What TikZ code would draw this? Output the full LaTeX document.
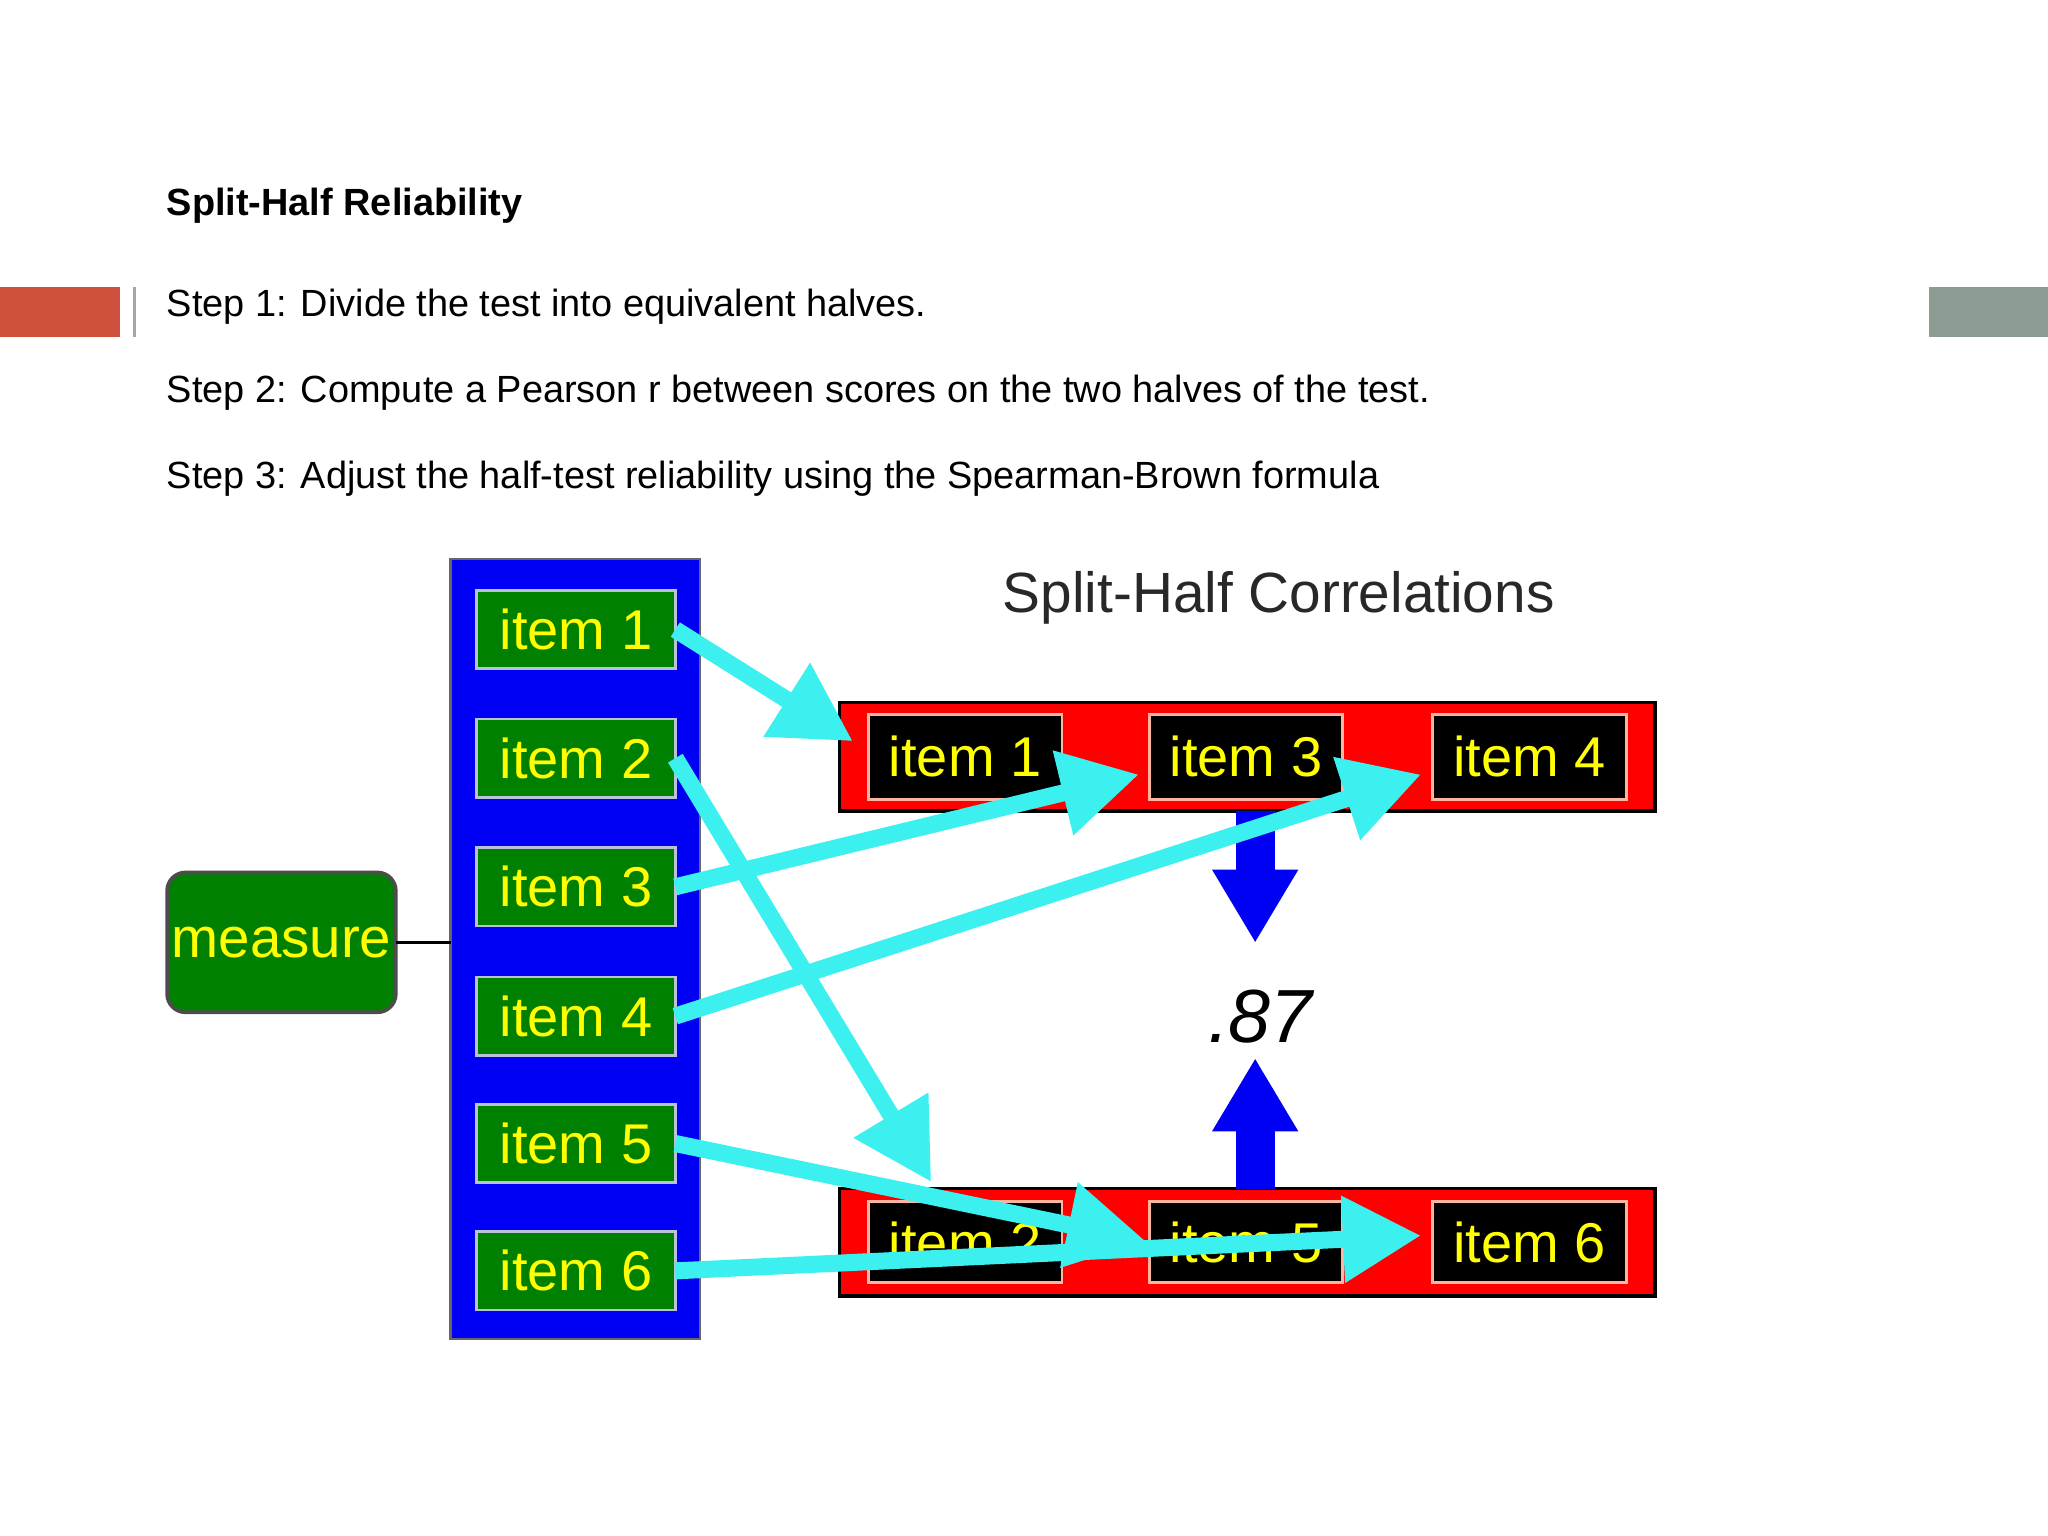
\documentclass[tikz,border=0pt]{standalone}
\usepackage{fontspec}
\setmainfont{Liberation Sans}
\usetikzlibrary{arrows.meta}
\definecolor{barred}{RGB}{208,80,62}
\definecolor{bargray}{RGB}{140,156,146}
\definecolor{boxgreen}{RGB}{0,128,0}
\definecolor{itemyellow}{RGB}{255,255,0}
\definecolor{linkcyan}{RGB}{60,240,240}
\definecolor{pureblue}{RGB}{0,0,245}
\definecolor{palerim}{RGB}{185,195,215}
\definecolor{pinkrim}{RGB}{255,180,160}
\definecolor{titlegray}{RGB}{40,40,40}
\begin{document}
\begin{tikzpicture}[x=0.01cm,y=-0.01cm,
  greenitem/.style={draw=palerim, line width=0.6pt, fill=boxgreen, text=itemyellow,
    minimum width=1.52cm, minimum height=0.6cm, inner sep=0pt, outer sep=0pt,
    font=\fontsize{12.2}{14}\selectfont},
  blackitem/.style={draw=pinkrim, line width=0.6pt, fill=black, text=itemyellow,
    minimum width=1.48cm, minimum height=0.64cm, inner sep=0pt, outer sep=0pt,
    font=\fontsize{12.2}{14}\selectfont},
  redband/.style={draw=black, line width=0.8pt, fill=red, minimum width=6.24cm,
    minimum height=0.83cm, inner sep=0pt, outer sep=0pt},
  link/.style={draw=linkcyan, line width=3.7pt, -{Triangle[length=17pt,width=18pt]}},
  bluearrow/.style={draw=pureblue, line width=8.5pt, -{Triangle[length=16pt,width=17.6pt]}},
  steptext/.style={anchor=base west, inner sep=0pt, font=\fontsize{8.25}{10}\selectfont},
]
\useasboundingbox (0,0) rectangle (1568,1176);
\fill[white] (0,0) rectangle (1568,1176);

% side bars
\fill[barred] (0,220) rectangle (92,258);
\draw[gray!70, line width=0.6pt] (103,220) -- (103,258);
\fill[bargray] (1477,220) rectangle (1568,258);

% texts
\node[steptext, font=\bfseries\fontsize{8.25}{10}\selectfont] (title) at (127,165) {Split-Half Reliability};
\node[steptext] (s1) at (127,242) {Step 1: Divide the test into equivalent halves.};
\node[steptext] (s2) at (127,308) {Step 2: Compute a Pearson r between scores on the two halves of the test.};
\node[steptext] (s3) at (127,374) {Step 3: Adjust the half-test reliability using the Spearman-Brown formula};

% left column
\node[draw=black!60, line width=0.5pt, fill=pureblue, minimum width=1.91cm, minimum height=5.97cm,
  inner sep=0pt, outer sep=0pt] (col) at (440.5,726.5) {};
\node[greenitem] (g1) at (441,482) {item 1};
\node[greenitem] (g2) at (441,580.5) {item 2};
\node[greenitem] (g3) at (441,679) {item 3};
\node[greenitem] (g4) at (441,778) {item 4};
\node[greenitem] (g5) at (441,875.5) {item 5};
\node[greenitem] (g6) at (441,973) {item 6};

\node[draw=black!70, line width=0.8pt, fill=boxgreen, text=itemyellow, rounded corners=4pt,
  minimum width=1.75cm, minimum height=1.07cm, inner sep=0pt, outer sep=0pt,
  font=\fontsize{12.3}{14}\selectfont] (measure) at (215.5,721.5) {measure};
\draw[black, line width=0.6pt] (measure.east) -- (col.west |- measure.east);

% title on the right
\node[anchor=base, inner sep=0pt, text=titlegray, font=\fontsize{12.35}{14}\selectfont] (corr) at (979,469) {Split-Half Correlations};

% red bands
\node[redband] (top) at (955,579.5) {};
\node[redband, minimum height=0.82cm] (bot) at (955,951) {};
\node[blackitem, minimum height=0.65cm] (t1) at (739,579.5) {item 1};
\node[blackitem, minimum height=0.65cm] (t3) at (954,579.5) {item 3};
\node[blackitem, minimum height=0.65cm] (t4) at (1171,579.5) {item 4};
\node[blackitem, minimum height=0.62cm] (b2) at (739,951) {item 2};
\node[blackitem, minimum height=0.62cm] (b5) at (954,951) {item 5};
\node[blackitem, minimum height=0.62cm] (b6) at (1171,951) {item 6};

% correlation value and blue arrows
\node[anchor=base, inner sep=0pt, font=\itshape\fontsize{16.4}{18}\selectfont] (r) at (965,798) {.87};
\coordinate (dtip) at (961,722);
\coordinate (utip) at (961,810);
\draw[bluearrow] (top.south -| dtip) -- (dtip);
\draw[bluearrow] (bot.north -| utip) -- (utip);

% cyan links
\draw[link] (g1.east) -- ([shift={(-12,-12)}]t1.west);
\draw[link] (g2.east) -- ([shift={(-26,-15)}]b2.north);
\draw[link] (g3.east) -- ([shift={(-8,13.5)}]t3.west);
\draw[link] (g4.east) -- ([shift={(-9,13.5)}]t4.west);
\draw[link] (g5.east) -- ([shift={(-3,-1)}]b5.west);
\draw[link] (g6.east) -- ([shift={(-9,-5)}]b6.west);
\end{tikzpicture}
\end{document}
